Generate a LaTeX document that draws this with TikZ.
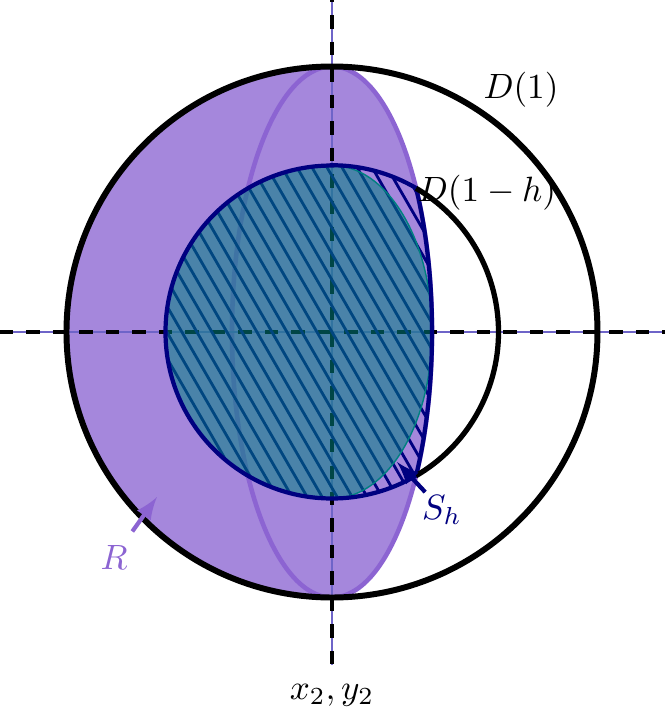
\documentclass[tikz,border=0pt]{standalone}
\usepackage{amsmath}
\usepackage{amssymb}
\usepackage{tikz}
\definecolor{rfill}{RGB}{165,135,220}
\definecolor{redge}{RGB}{140,100,210}
\definecolor{axisblue}{RGB}{110,100,200}

\begin{document}
\begin{tikzpicture}[
    bigline/.style={black, line width=1.7pt},
    axisline/.style={axisblue, line width=0.3pt},
    axisdash/.style={black, line width=1.2pt, dash pattern=on 0.135cm off 0.13cm},
    hatchline/.style={navy, line width=0.8pt},
  ]
    \tikzstyle{every node}+=[inner sep=0pt]
    \definecolor{navy}{RGB}{0,0,128}
    \useasboundingbox (-3.32,-3.83) rectangle (3.33,3.32);
    % the region R
    \fill [rfill] (0,2.655) arc[start angle=90, end angle=270, radius=2.655]
        arc[start angle=-90, end angle=90, x radius=1, y radius=2.655] -- cycle;
    \draw [redge, line width=1.3pt] (0,0) ellipse (1 and 2.655);
    % axes
    \draw [axisline] (-3.32,0) -- (3.33,0);
    \draw [axisline] (0,3.32) -- (0,-3.33);
    \draw [axisdash] (-3.32,0) -- (3.33,0);
    \draw [axisdash, dash phase=0.115cm] (0,3.32) -- (0,-3.33);
    % hatching of S_h
    \begin{scope}
    \clip (0,1.665) arc[start angle=90, end angle=300.34, radius=1.665]
        arc[start angle=-32.8, end angle=32.8, x radius=1, y radius=2.655]
        arc[start angle=59.66, end angle=90, radius=1.665] -- cycle;
    \begin{scope}[rotate=30]
    \foreach \i in {-16,...,16}
        \draw [hatchline] (\i*0.13,-2) -- (\i*0.13,2);
    \end{scope}
    \end{scope}
    \fill [teal, opacity=0.55] (0,1.665) arc[start angle=90, end angle=270, radius=1.665]
        arc[start angle=-90, end angle=90, x radius=1, y radius=1.665] -- cycle;
    \draw [teal, line width=0.4pt] (0,1.665) arc[start angle=90, end angle=270, radius=1.665]
        arc[start angle=-90, end angle=90, x radius=1, y radius=1.665] -- cycle;
    % boundary of S_h
    \draw [navy, line width=1.2pt] (0,1.665) arc[start angle=90, end angle=300.34, radius=1.665]
        arc[start angle=-32.8, end angle=32.8, x radius=1, y radius=2.655]
        arc[start angle=59.66, end angle=90, radius=1.665] -- cycle;
    % the two discs
    \draw [black, line width=1.5pt] (59.66:1.665) arc[start angle=59.66, end angle=-59.66, radius=1.665];
    \draw [bigline] (0,0) circle (2.655);
    % labels
    \draw (1.89,2.42) node (dOne) {$D(1)$};
    \draw (1.55,1.39) node (dOneh) {$D(1-h)$};
    \draw (0,-3.63) node (xyLabel) {$x_2,y_2$};
    \draw (-2.18,-2.25) node [text=redge] (rLabel) {$R$};
    \draw (1.10,-1.78) node [text=navy] (sLabel) {$S_h$};
    \coordinate (rTip) at (-1.75,-1.65);
    \coordinate (sTip) at (0.65,-1.30);
    \draw [redge, line width=1.2pt, -latex, shorten <=4.5pt] (rLabel) -- (rTip);
    \draw [navy, line width=1.2pt, -latex, shorten <=1pt] (sLabel) -- (sTip);
\end{tikzpicture}
\end{document}
